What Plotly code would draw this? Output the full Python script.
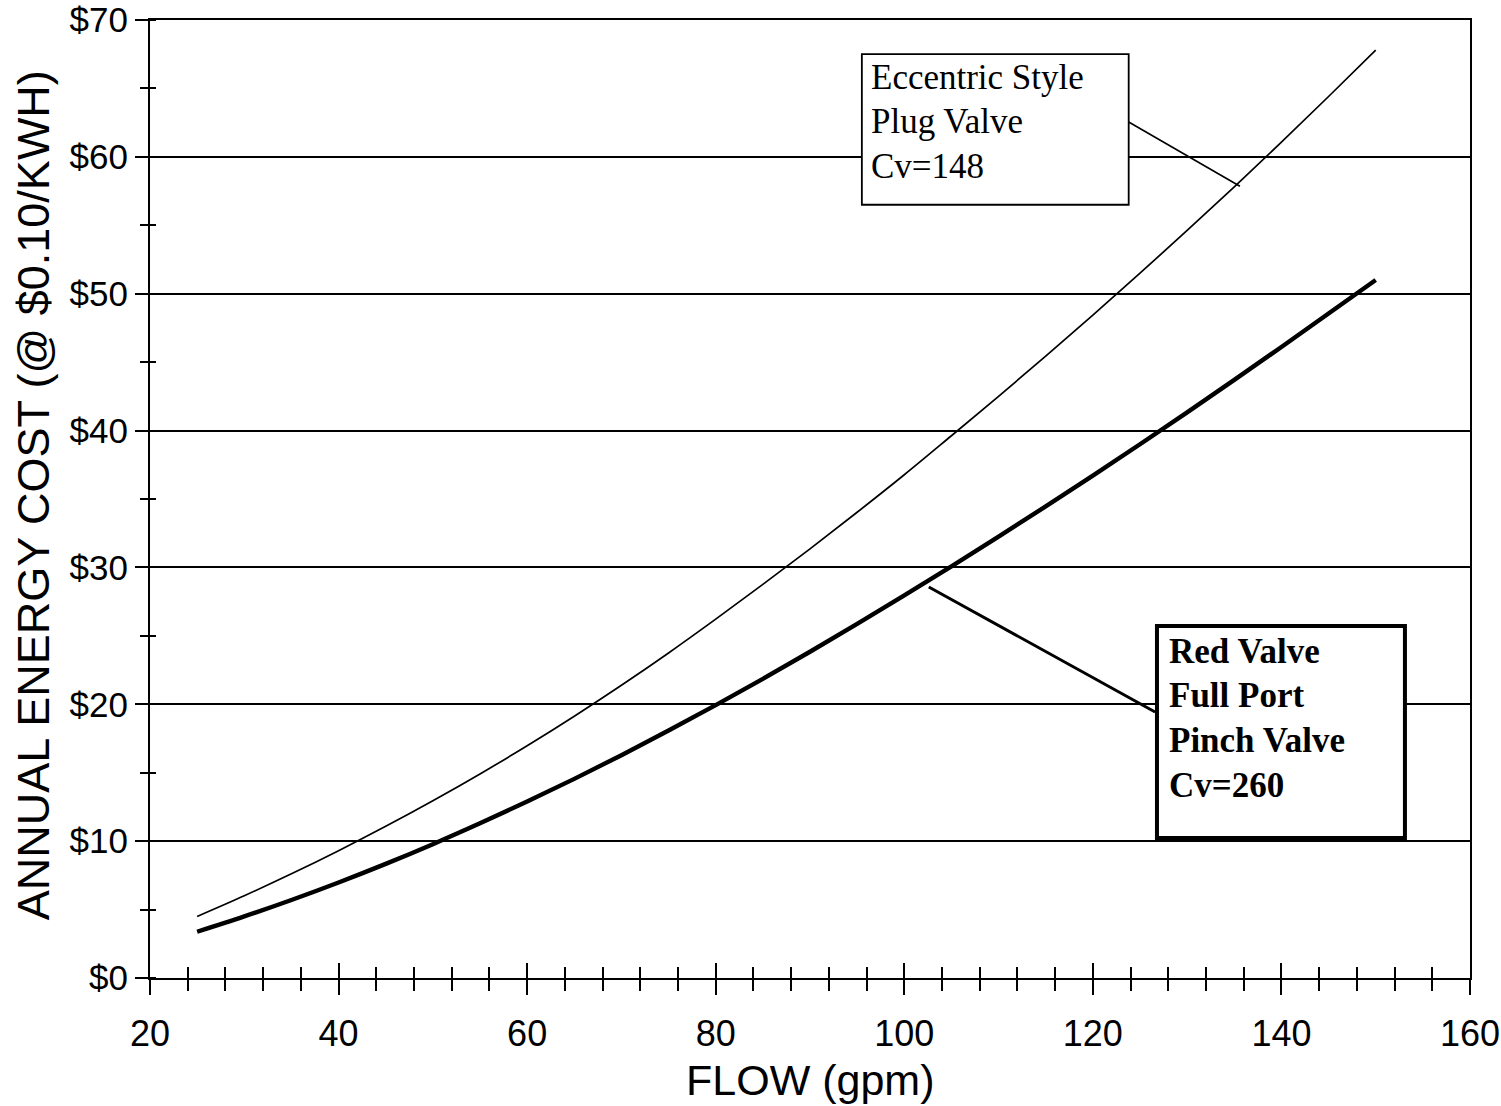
import plotly.graph_objects as go

flow = [25, 30, 35, 40, 45, 50, 55, 60, 65, 70, 75, 80, 85, 90, 95, 100,
        105, 110, 115, 120, 125, 130, 135, 140, 145, 150]
eccentric_cost = [4.50, 6.01, 7.61, 9.30, 11.08, 12.95, 14.91, 16.97, 19.13, 21.39, 23.75,
                  26.22, 28.76, 31.36, 34.03, 36.77, 39.62, 42.50, 45.44, 48.44, 51.50,
                  54.62, 57.81, 61.07, 64.41, 67.80]
pinch_cost = [3.38, 4.50, 5.70, 6.98, 8.34, 9.78, 11.30, 12.89, 14.55, 16.28, 18.08, 19.94,
              21.86, 23.84, 25.87, 27.95, 30.08, 32.25, 34.46, 36.71, 39.00, 41.33, 43.70,
              46.11, 48.56, 51.00]

x_ticks = [20, 40, 60, 80, 100, 120, 140, 160]
y_ticks = [0, 10, 20, 30, 40, 50, 60, 70]
y_tick_labels = ["$" + str(v) for v in y_ticks]

x_title = "FLOW (gpm)"
y_title = "ANNUAL ENERGY COST (@ $0.10/KWH)"
ecc_label = ["Eccentric Style", "Plug Valve", "Cv=148"]
pinch_label = ["Red Valve", "Full Port", "Pinch Valve", "Cv=260"]

SANS = "Liberation Sans, Arial, sans-serif"
SERIF = "Liberation Serif, Times New Roman, serif"

fig = go.Figure()
fig.add_trace(go.Scatter(x=flow, y=eccentric_cost, mode="lines",
                         line=dict(color="black", width=1.7, shape="spline"),
                         name="Eccentric Style Plug Valve", showlegend=False))
fig.add_trace(go.Scatter(x=flow, y=pinch_cost, mode="lines",
                         line=dict(color="black", width=4.4, shape="spline"),
                         name="Red Valve Full Port Pinch Valve", showlegend=False))
# empty traces to activate overlay axes (inside tick halves)
fig.add_trace(go.Scatter(x=[], y=[], xaxis="x2", yaxis="y", showlegend=False))
fig.add_trace(go.Scatter(x=[], y=[], xaxis="x", yaxis="y2", showlegend=False))

# annotation boxes and leader lines
fig.add_shape(type="rect", xref="x", yref="y", x0=95.5, x1=123.8, y0=56.5, y1=67.5,
              line=dict(color="black", width=1.8), fillcolor="white", layer="above")
fig.add_shape(type="line", xref="x", yref="y", x0=123.8, y0=62.55, x1=135.6, y1=57.85,
              line=dict(color="black", width=1.6))
fig.add_shape(type="rect", xref="x", yref="y", x0=126.8, x1=153.1, y0=10.23, y1=25.72,
              line=dict(color="black", width=4), fillcolor="white", layer="above")
fig.add_shape(type="line", xref="x", yref="y", x0=102.6, y0=28.57, x1=126.6, y1=19.44,
              line=dict(color="black", width=3))

ecc_y = [65.83, 62.62, 59.33]
for t, yy in zip(ecc_label, ecc_y):
    fig.add_annotation(x=96.3, y=yy, xref="x", yref="y", text=t, showarrow=False,
                       xanchor="left", yanchor="middle",
                       font=dict(family=SERIF, size=35, color="black"))
pin_y = [23.89, 20.61, 17.32, 14.03]
for t, yy in zip(pinch_label, pin_y):
    fig.add_annotation(x=127.9, y=yy, xref="x", yref="y", text="<b>" + t + "</b>", showarrow=False,
                       xanchor="left", yanchor="middle",
                       font=dict(family=SERIF, size=35, color="black"))

# axis titles
fig.add_annotation(x=0.5, y=-0.1065, xref="paper", yref="paper", text=x_title, showarrow=False,
                   xanchor="center", yanchor="middle",
                   font=dict(family=SANS, size=43, color="black"))
fig.add_annotation(x=-0.0886, y=0.504, xref="paper", yref="paper", text=y_title, showarrow=False,
                   textangle=-90, xanchor="center", yanchor="middle",
                   font=dict(family=SANS, size=45, color="black"))

fig.update_layout(
    width=1501, height=1106,
    margin=dict(l=150, r=31, t=20, b=128),
    paper_bgcolor="white", plot_bgcolor="white",
    font=dict(family=SANS, color="black"),
    xaxis=dict(range=[20, 160], tickvals=x_ticks, ticks="outside", ticklen=15, tickwidth=2,
               tickcolor="black", showline=True, linecolor="black", linewidth=2, mirror=True,
               showgrid=False, zeroline=False, automargin=False, ticklabelstandoff=8,
               ticklabeloverflow="allow",
               minor=dict(dtick=4, tick0=0, ticks="outside", ticklen=11, tickwidth=2,
                          tickcolor="black", showgrid=False),
               tickfont=dict(family=SANS, size=36, color="black")),
    xaxis2=dict(range=[20, 160], overlaying="x", anchor="y", side="bottom",
                tickvals=x_ticks, ticks="inside", ticklen=15, tickwidth=2, tickcolor="black",
                showticklabels=False, showgrid=False, zeroline=False, showline=False,
                automargin=False,
                minor=dict(dtick=4, tick0=0, ticks="inside", ticklen=11, tickwidth=2,
                           tickcolor="black", showgrid=False)),
    yaxis=dict(range=[0, 70], tickvals=y_ticks, ticktext=y_tick_labels, ticks="outside",
               ticklen=13, tickwidth=2, tickcolor="black",
               showline=True, linecolor="black", linewidth=2, mirror=True,
               showgrid=True, gridcolor="black", gridwidth=1.8, zeroline=False,
               automargin=False, ticklabeloverflow="allow",
               minor=dict(dtick=5, tick0=0, ticks="outside", ticklen=8, tickwidth=2,
                          tickcolor="black", showgrid=False),
               tickfont=dict(family=SANS, size=35, color="black")),
    yaxis2=dict(range=[0, 70], overlaying="y", anchor="x", side="left",
                tickvals=y_ticks, ticks="", showticklabels=False, showgrid=False,
                zeroline=False, showline=False, automargin=False,
                minor=dict(dtick=5, tick0=0, ticks="inside", ticklen=6, tickwidth=2,
                           tickcolor="black", showgrid=False)),
)

fig.write_html("out.html", config={"displayModeBar": False},
               post_script="document.body.style.margin='0';document.body.style.overflow='hidden';")
